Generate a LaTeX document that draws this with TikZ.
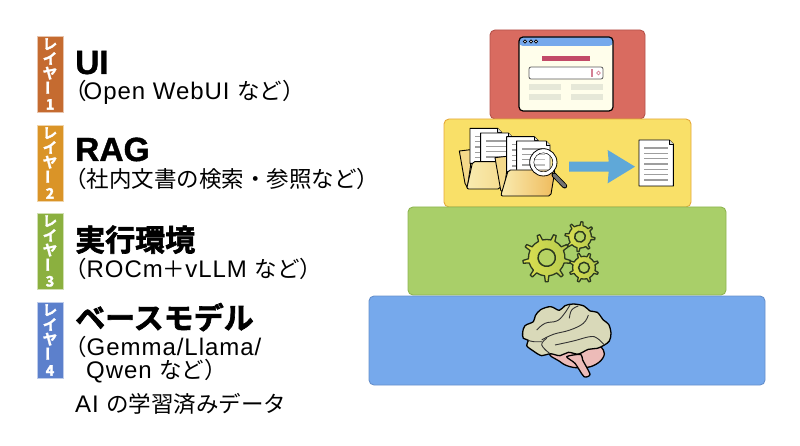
\documentclass[tikz,border=0pt]{standalone}
\usepackage{fontspec}
\setmainfont[LetterSpace=4]{Liberation Sans}
\newfontfamily\jpfont{Noto Sans CJK JP}
\newfontfamily\jpheavy[FakeBold=2]{Noto Sans CJK JP Bold}
\newfontfamily\lnheavy[FakeBold=1.2]{Liberation Sans Bold}
\newcommand{\jp}[1]{{\jpfont\fontsize{22.5}{22.5}\selectfont #1}}
\definecolor{redbox}{HTML}{D96B60}
\definecolor{redline}{HTML}{B5524A}
\definecolor{yellowbox}{HTML}{F9E068}
\definecolor{yellowline}{HTML}{E5A83A}
\definecolor{greenbox}{HTML}{A9CF69}
\definecolor{greenline}{HTML}{8FB551}
\definecolor{bluebox}{HTML}{76A9EC}
\definecolor{blueline}{HTML}{6690CC}
\definecolor{arrowblue}{HTML}{5FA8D8}
\definecolor{panelgray}{HTML}{E6E8D8}
\definecolor{crimson}{HTML}{C24A68}
\definecolor{tabone}{HTML}{C56B30}
\definecolor{tabtwo}{HTML}{DA9427}
\definecolor{tabthree}{HTML}{8BB03F}
\definecolor{tabfour}{HTML}{5C80CC}
\definecolor{gearlight}{HTML}{DCE050}
\definecolor{geardark}{HTML}{B4CA4E}
\definecolor{gearline}{HTML}{2C3A20}
\definecolor{brainfill}{HTML}{D9D9B9}
\definecolor{cerebfill}{HTML}{EDBBB8}
\definecolor{folderback}{HTML}{F4D98A}
\definecolor{folderlight}{HTML}{F9EBB0}
\definecolor{folderdark}{HTML}{EFBB5C}
\tikzset{
  layerbox/.style={rounded corners=5pt,line width=0.9pt,inner sep=0pt},
  layertab/.style={draw=white!60!#1,fill=#1,line width=0.5pt,minimum width=26pt,minimum height=76pt,inner sep=0pt,text=white,align=center,font=\jpheavy\fontsize{14.5}{14.6}\selectfont},
  title/.style={anchor=base west,inner sep=0pt,font=\lnheavy\fontsize{33.5}{33.5}\selectfont},
  jptitle/.style={anchor=base west,inner sep=0pt,font=\jpheavy\fontsize{30}{30}\selectfont},
  subtitle/.style={anchor=base west,inner sep=0pt,font=\fontsize{24}{24}\selectfont},
  paper/.style={draw=black,fill=white,line width=0.9pt,line join=round},
  gear/.style={draw=gearline,line width=1.3pt,left color=gearlight,right color=geardark,line join=round},
  sulcus/.style={draw=black!80,line width=0.9pt},
}
% one sheet with text rules
\newcommand{\sheet}[4]{
  \begin{scope}[shift={(#1,#2)}]
    \draw[paper] (0,0) -- ({#3-12},0) -- (#3,12) -- (#3,#4) -- (0,#4) -- cycle;
    \draw[paper,fill=black!15] ({#3-12},0) -- ({#3-12},12) -- (#3,12);
    \foreach \ty in {24,40,...,#4} {
      \ifdim\ty pt<\dimexpr#4pt-12pt\relax
        \draw[black!38,line width=1.2pt] (16,\ty) -- ({#3-16},\ty);
      \fi
    }
  \end{scope}
}
% gear at a point
\newcommand{\cog}[5]{
  \begin{scope}[shift={(#1,#2)},rotate=#5]
    \draw[gear] (0:#3*0.76)
      \foreach \k in {1,...,#4} {
        arc[start angle={(\k-1)*360/#4},end angle={(\k-1)*360/#4+180/#4-60/#4},radius=#3*0.76]
        -- ({(\k-1)*360/#4+180/#4-30/#4}:#3) -- ({(\k-1)*360/#4+180/#4+30/#4}:#3)
        -- ({(\k-1)*360/#4+180/#4+60/#4}:#3*0.76)
        arc[start angle={(\k-1)*360/#4+180/#4+60/#4},end angle={\k*360/#4},radius=#3*0.76]
      } -- cycle;
    \draw[draw=gearline,line width=1.5pt,fill=greenbox!75!gearlight] (0,0) circle[radius=#3*0.36];
  \end{scope}
}
\begin{document}
\begin{tikzpicture}[x=1pt,y=-1pt]
  \useasboundingbox (0,0) rectangle (800,446);
  % layers on the right
  \node[layerbox,draw=redline,fill=redbox,minimum width=155pt,minimum height=89pt] (ui) at (567.5,74.5) {};
  \node[layerbox,draw=yellowline,fill=yellowbox,minimum width=247pt,minimum height=88pt] (rag) at (567.5,163) {};
  \node[layerbox,draw=greenline,fill=greenbox,minimum width=318pt,minimum height=88pt] (runtime) at (567,251) {};
  \node[layerbox,draw=blueline,fill=bluebox,minimum width=396pt,minimum height=89pt] (base) at (567,340.5) {};
  % tabs
  \node[layertab=tabone] (tab1) at (50,74) {レ\\イ\\ヤ\\\rotatebox{90}{ー}\\1};
  \node[layertab=tabtwo] (tab2) at (50,163) {レ\\イ\\ヤ\\\rotatebox{90}{ー}\\2};
  \node[layertab=tabthree] (tab3) at (50,251) {レ\\イ\\ヤ\\\rotatebox{90}{ー}\\3};
  \node[layertab=tabfour] (tab4) at (50,340) {レ\\イ\\ヤ\\\rotatebox{90}{ー}\\4};
  % texts on the left
  \node[title] (t1) at (75,74) {UI};
  \node[subtitle] (s1) at (64,100) {\jp{（}\hspace{-3pt}Open WebUI \jp{など）}};
  \node[title] (t2) at (75,161) {RAG};
  \node[subtitle] (s2) at (64,188) {\jp{（社内文書の検索・参照など）}};
  \node[jptitle] (t3) at (75,251) {実行環境};
  \node[subtitle] (s3) at (64,277) {\jp{（}ROCm\jp{＋}vLLM \jp{など）}};
  \node[jptitle] (t4) at (75,329) {ベースモデル};
  \node[subtitle] (s4) at (64,355) {\jp{（}Gemma/Llama/};
  \node[subtitle] (s5) at (86,378) {Qwen \jp{など）}};
  \node[subtitle] (s6) at (75,412) {AI \jp{の学習済みデータ}};
  % browser
  \fill[yellow!8,rounded corners=4pt] (519,37) rectangle (613,111);
  \fill[bluebox,rounded corners=4pt] (519,46) -- (519,37) -- (613,37) -- (613,46) -- cycle;
  \draw[black,line width=1.2pt,rounded corners=4pt] (519,37) rectangle (613,111);
  \foreach \dx in {525,531,536}
    \draw[black,fill=white,line width=0.6pt] (\dx,41.5) circle[radius=1.6];
  \fill[crimson] (542,56) rectangle (590,61);
  \draw[black!65,fill=white,line width=0.8pt,rounded corners=2pt] (529,67) rectangle (603,79);
  \fill[crimson!70] (590.5,69) rectangle (593,77);
  \draw[crimson!70,line width=0.7pt] (598.5,73) circle[radius=1.8];
  \foreach \bx in {529,571}
    \foreach \by in {84,94}
      \fill[panelgray] (\bx,\by) rectangle ++(32,6);
  % folders, arrow and result sheet
  \begin{scope}[shift={(440,115)},scale=1/3]
    \draw[paper,fill=folderback] (58,108) -- (92,104) -- (92,150) -- (82,218) -- (75,205) -- cycle;
    \sheet{90}{40}{95}{105}
    \sheet{122}{54}{95}{100}
    \draw[paper,left color=folderlight,right color=folderback,rounded corners=2pt] (98,140) -- (205,140) -- (180,222) -- (80,222) -- cycle;
    \draw[paper,fill=folderback] (165,128) -- (200,124) -- (200,170) -- (190,236) -- (182,225) -- cycle;
    \sheet{200}{65}{95}{105}
    \sheet{230}{78}{100}{100}
    \draw[paper,left color=folderlight,right color=folderdark,rounded corners=2pt] (205,165) -- (345,165) -- (332,243) -- (182,243) -- cycle;
    \draw[black,line width=5pt,line cap=round] (342,180) -- (374,213);
    \draw[black!55,line width=3.4pt,line cap=round] (342,180) -- (374,213);
    \draw[black,fill=white,fill opacity=0.35,line width=0.8pt] (310,142) circle[radius=29];
    \draw[white,line width=3.4pt] (310,142) circle[radius=35];
    \draw[black,line width=0.8pt] (310,142) circle[radius=41];
    \fill[arrowblue] (387,140) -- (506,140) -- (503,105) -- (585,155) -- (503,205) -- (506,170) -- (387,170) -- cycle;
    \sheet{597}{75}{103}{138}
  \end{scope}
  % gears
  \cog{546.7}{257.7}{24}{9}{10}
  \cog{580}{236.7}{15}{8}{15}
  \cog{584}{267.7}{15}{8}{0}
  % brain
  \begin{scope}[shift={(510,295)},scale=1/3,line width=1.3pt,line join=round]
    \draw[fill=cerebfill] plot[smooth cycle,tension=0.7] coordinates {(125,172) (150,200) (180,215) (215,218) (250,212) (278,190) (280,165) (250,155)};
    \draw[fill=cerebfill] plot[smooth cycle,tension=0.4] coordinates {(170,185) (195,205) (222,245) (240,238) (218,195) (212,178)};
    \draw[fill=brainfill] plot[smooth cycle,tension=0.55] coordinates {(38,112) (45,92) (70,80) (76,62) (92,44) (122,35) (148,46) (165,32) (190,27) (222,33) (240,48) (262,52) (280,75) (296,88) (303,115) (298,138) (283,150) (262,160) (235,163) (205,177) (175,172) (150,182) (120,176) (95,182) (70,168) (50,152) (55,136) (40,130)};
    \draw[sulcus] plot[smooth,tension=0.7] coordinates {(80,105) (105,85) (140,78) (160,60) (180,30)};
    \draw[sulcus] plot[smooth,tension=0.7] coordinates {(95,135) (130,118) (180,105) (220,85) (235,60)};
    \draw[sulcus] plot[smooth,tension=0.7] coordinates {(120,176) (95,150) (110,130)};
    \draw[sulcus] plot[smooth,tension=0.7] coordinates {(135,150) (190,138) (240,125) (262,130) (283,150)};
    \draw[sulcus] plot[smooth,tension=0.7] coordinates {(55,136) (70,140) (95,140)};
    \draw[sulcus] plot[smooth,tension=0.7] coordinates {(178,70) (185,45) (205,33)};
  \end{scope}
\end{tikzpicture}
\end{document}
